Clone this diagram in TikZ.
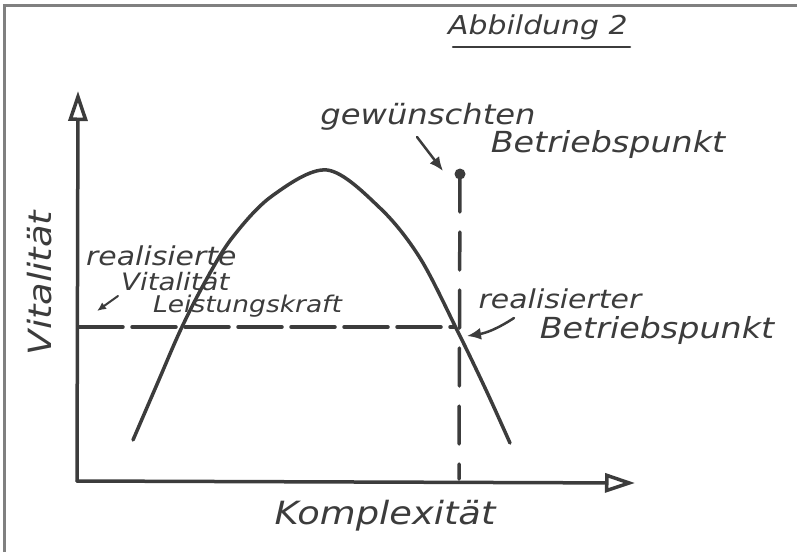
\documentclass[tikz,border=0pt]{standalone}
\usepackage{fontspec}
\setmainfont{DejaVu Sans}
\newfontfamily\hand[FakeStretch=1.15]{DejaVu Sans}
\usetikzlibrary{arrows.meta}
\definecolor{tinte}{HTML}{3C3C3C}
\definecolor{rahmen}{HTML}{808080}
\tikzset{
  stift/.style={draw=tinte, line width=3.5pt, line cap=round, line join=round},
  schrift/.style={text=tinte, inner sep=0pt,
    font=\hand\itshape\fontsize{#1}{#1}\selectfont},
  schrift/.default=27,
  zeiger/.style={stift, line width=2.5pt, -{Latex[length=14pt,width=12pt]}},
  achse/.style={stift, -{Triangle[open,length=30pt,width=19pt]}},
}
\begin{document}
\begin{tikzpicture}[x=1pt,y=-1pt]
  \useasboundingbox (0,0) rectangle (798,552);
  % Rahmen
  \draw[rahmen, line width=3pt] (4,552) -- (4,5) -- (797,5);

  % Achsen
  \coordinate (O) at (77,481);
  \coordinate (ytip) at (78,91);
  \coordinate (xtip) at (635,483);
  \draw[achse] (O) -- (ytip);
  \draw[achse] (O) -- (xtip);
  \node[schrift=32, rotate=90] (vital) at (40,283) {Vitalität};
  \node[schrift=32] (komplex) at (385,516) {Komplexität};

  % Kurve
  \draw[stift] plot[smooth, tension=0.55] coordinates {(133,440) (158,382)
    (181,329) (205,282) (232,238) (272,196) (327,170) (380,208) (420,258)
    (458,332) (486,390) (510,443)};

  % Betriebspunkte
  \coordinate (wunsch) at (460,174);
  \coordinate (real) at (458,332);
  \fill[tinte] (wunsch) circle (5.5);
  \draw[stift, dash pattern=on 38pt off 20pt] (wunsch) -- (459,479);
  \draw[stift, dash pattern=on 44pt off 9pt] (79,327) -- (455,327);

  % Titel
  \node[schrift=26, anchor=base west] (titel) at (448,34) {Abbildung 2};
  \draw[stift, line width=2.5pt] (453,47) -- (630,47);

  % gewuenschter Punkt
  \node[schrift=28] (gewuenscht) at (428,117) {gewünschten};
  \node[schrift=29] (betrieb1) at (608,144) {Betriebspunkt};
  \coordinate (g0) at (417,137);
  \coordinate (g1) at (443,171);
  \draw[zeiger] (g0) -- (g1);

  % realisierter Punkt
  \node[schrift=26] (realisiert) at (560,299) {realisierter};
  \node[schrift=29] (betrieb2) at (657,330) {Betriebspunkt};
  \coordinate (r0) at (514,318);
  \coordinate (r1) at (467,336);
  \draw[zeiger] (r0) to[bend left=12] (r1);

  % realisierte Vitalitaet
  \node[schrift=26, anchor=west] (realv) at (86,256) {realisierte};
  \node[schrift=24, anchor=west] (vital2) at (121,282) {Vitalität};
  \node[schrift=23, anchor=west] (leist) at (153,306) {Leistungskraft};
  \coordinate (v0) at (118,296);
  \coordinate (v1) at (97,311);
  \draw[zeiger, line width=2pt, -{Latex[length=9pt,width=8pt]}] (v0) -- (v1);
\end{tikzpicture}
\end{document}
